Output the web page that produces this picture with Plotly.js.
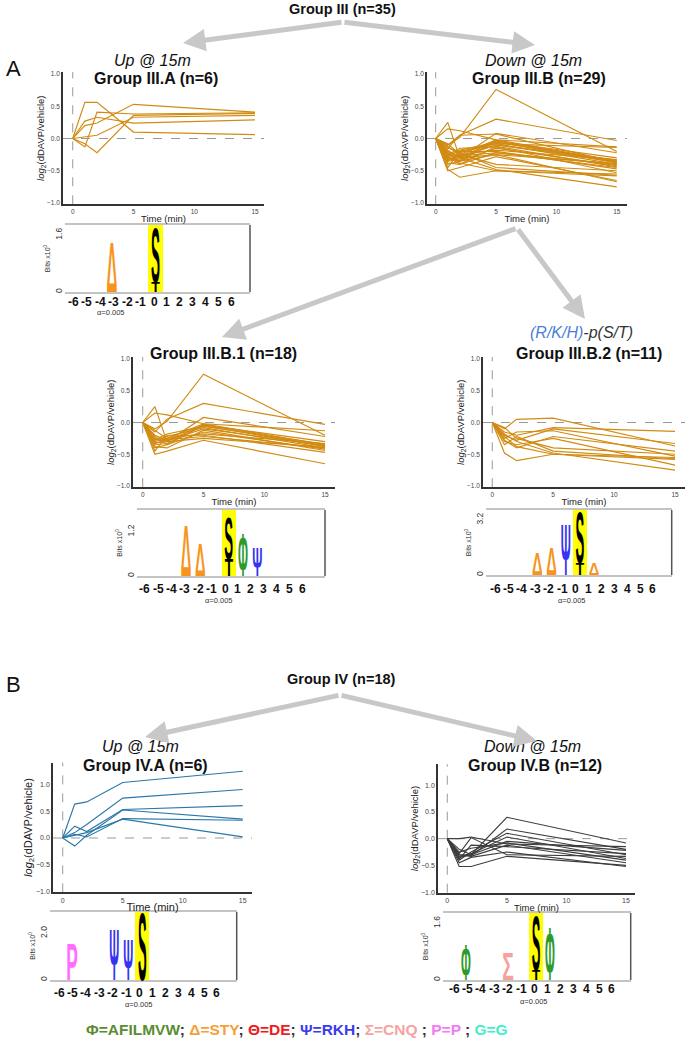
<!DOCTYPE html>
<html><head><meta charset="utf-8">
<script src="https://cdn.plot.ly/plotly-3.0.1.min.js"></script>
<style>html,body{margin:0;padding:0;background:#fff}</style>
</head><body><div id="chart" style="width:685px;height:1038px"></div>
<script>
// ---------------- DATA ----------------
const timeMin = [0, 1, 2, 5, 15];
const timeTicks = [0, 5, 10, 15];
const valueTicks = [-1, -0.5, 0, 0.5, 1];

const groupIIIA = [
  [0, 0.56, 0.56, 0.10, 0.06],
  [0, 0.27, 0.33, 0.24, 0.29],
  [0, 0.20, 0.24, 0.53, 0.41],
  [0, -0.13, 0.41, 0.38, 0.40],
  [0, -0.08, -0.22, 0.36, 0.39],
  [0, 0.02, 0.05, 0.33, 0.36]
];
const groupIIIB1 = [
  [0, -0.10, 0.02, 0.76, -0.20],
  [0, -0.15, 0.05, 0.30, -0.03],
  [0, 0.25, -0.30, 0.08, -0.22],
  [0, 0.15, 0.12, -0.02, -0.13],
  [0, -0.50, -0.45, -0.28, -0.65],
  [0, -0.30, -0.25, -0.02, -0.35],
  [0, -0.25, -0.30, -0.03, -0.37],
  [0, -0.35, -0.33, -0.05, -0.38],
  [0, -0.28, -0.22, -0.08, -0.40],
  [0, -0.40, -0.35, -0.15, -0.42],
  [0, -0.20, -0.28, -0.10, -0.36],
  [0, -0.45, -0.20, -0.20, -0.47],
  [0, -0.32, -0.30, -0.25, -0.39],
  [0, -0.22, -0.35, -0.04, -0.30],
  [0, -0.12, -0.25, -0.18, -0.33],
  [0, -0.38, -0.40, -0.12, -0.44],
  [0, -0.27, -0.18, -0.06, -0.34],
  [0, -0.33, -0.27, -0.22, -0.40]
];
const groupIIIB2 = [
  [0, -0.10, 0.05, 0.07, -0.37],
  [0, -0.15, -0.20, -0.08, -0.14],
  [0, -0.48, -0.60, -0.50, -0.55],
  [0, -0.28, -0.40, -0.22, -0.45],
  [0, -0.20, -0.28, -0.10, -0.33],
  [0, -0.25, -0.15, -0.13, -0.53],
  [0, -0.30, -0.35, -0.25, -0.67],
  [0, -0.08, -0.25, -0.40, -0.50],
  [0, -0.35, -0.22, -0.45, -0.57],
  [0, -0.18, -0.30, -0.48, -0.75],
  [0, -0.22, -0.38, -0.50, -0.58]
];
const groupIIIB = groupIIIB1.concat(groupIIIB2);
const groupIVA = [
  [0, 0.63, 0.67, 1.03, 1.24],
  [0, 0.10, 0.25, 0.74, 0.90],
  [0, 0.22, 0.12, 0.53, 0.60],
  [0, -0.15, 0.05, 0.52, 0.35],
  [0, 0.07, 0.02, 0.36, 0.33],
  [0, 0.05, 0.10, 0.35, 0.02]
];
const groupIVB = [
  [0, -0.20, -0.30, 0.40, -0.08],
  [0, -0.30, -0.32, 0.18, -0.20],
  [0, 0.00, 0.03, -0.10, -0.15],
  [0, -0.52, -0.52, -0.33, -0.50],
  [0, -0.40, -0.25, 0.10, -0.30],
  [0, -0.35, -0.30, -0.05, -0.22],
  [0, -0.25, -0.18, -0.08, -0.40],
  [0, -0.30, -0.33, -0.12, -0.45],
  [0, -0.38, -0.12, -0.15, -0.28],
  [0, -0.45, -0.35, -0.25, -0.52],
  [0, -0.28, 0.02, -0.30, -0.33],
  [0, -0.33, -0.28, 0.03, -0.37]
];

// sequence logos: position, residue symbol, bits (stacked bottom->top per position)
const logoPositionLabels = ['-6','-5','-4','-3','-2','-1','0','1','2','3','4','5','6'];
const centralPosition = 0;
const logoIIIA_pos  = [-3, 0, 0];
const logoIIIA_res  = ['Δ', 'T', 'S'];
const logoIIIA_bits = [1.40, 0.28, 1.52];
const logoIIIB1_pos  = [-3, -2, 0, 0, 1, 2];
const logoIIIB1_res  = ['Δ', 'Δ', 'T', 'S', 'Φ', 'Ψ'];
const logoIIIB1_bits = [1.38, 0.89, 0.47, 1.14, 1.17, 0.76];
const logoIIIB2_pos  = [-3, -2, -1, 0, 0, 1];
const logoIIIB2_res  = ['Δ', 'Δ', 'Ψ', 'T', 'S', 'Δ'];
const logoIIIB2_bits = [1.28, 1.57, 2.91, 0.70, 2.91, 0.70];
const logoIVA_pos  = [-5, -2, -1, 0];
const logoIVA_res  = ['P', 'Ψ', 'Ψ', 'S'];
const logoIVA_bits = [1.54, 2.14, 1.71, 2.88];
const logoIVB_pos  = [-5, -2, 0, 0, 1];
const logoIVB_res  = ['Φ', 'Σ', 'T', 'S', 'Φ'];
const logoIVB_bits = [0.97, 0.76, 0.28, 1.55, 1.47];
const logoMaxBits  = [1.88, 1.79, 3.78, 2.91, 1.89];
const logoTickBits = [1.6, 1.2, 3.2, 2.0, 1.6];

// ---------------- LAYOUT HELPERS ----------------
const W = 685, H = 1038;
const FONT = 'Liberation Sans, Arial, sans-serif';
const px = v => v / W;
const py = v => 1 - v / H;
const GOLD = '#d18b12', BLUE = '#2a78a8', GREY = '#3d3d3d';
const resColor = {'Δ':'#f7941d','S':'#000000','T':'#000000','Ψ':'#3434f2','Φ':'#2e9a2a','Σ':'#f7a0a0','P':'#ff6cff'};
const resWidth = {'Δ':0.70,'S':0.58,'T':0.58,'Ψ':0.66,'Φ':0.66,'Σ':0.76,'P':0.74};

const linePanels = [
  {data: groupIIIA, color: GOLD, x:[63,264],  y:[72.1,204.3], xr:[-0.80,15.74], yr:[-1.02,1.03], tf:6.5, lf:9.5},
  {data: groupIIIB, color: GOLD, x:[427,627], y:[72.1,204.3], xr:[-0.72,15.85], yr:[-1.02,1.03], tf:6.5, lf:9.5},
  {data: groupIIIB1, color: GOLD, x:[133,335], y:[357.1,487.3], xr:[-0.80,15.82], yr:[-1.02,1.03], tf:6.5, lf:9.5},
  {data: groupIIIB2, color: GOLD, x:[483,685], y:[357.1,487.3], xr:[-0.76,15.82], yr:[-1.02,1.03], tf:6.5, lf:9.5},
  {data: groupIVA, color: BLUE, x:[53,252],  y:[762.6,892.4], xr:[-0.81,15.77], yr:[-1.01,1.40], tf:7, lf:11},
  {data: groupIVB, color: GREY, x:[438,635], y:[764.3,892.7], xr:[-0.78,15.76], yr:[-1.01,1.39], tf:7, lf:9.5}
];
const logos = [
  {pos:logoIIIA_pos, res:logoIIIA_res, bits:logoIIIA_bits, x:[65,250], y:[225,292], xr:[-6.24,6.52], row:[154,301.7], alpha:[110,312]},
  {pos:logoIIIB1_pos, res:logoIIIB1_res, bits:logoIIIB1_bits, x:[137,325], y:[510,576], xr:[-6.46,6.77], row:[225,589.3], alpha:[218,600]},
  {pos:logoIIIB2_pos, res:logoIIIB2_res, bits:logoIIIB2_bits, x:[486,671.7], y:[510,575], xr:[-6.62,6.46], row:[575.5,589], alpha:[571.7,600]},
  {pos:logoIVA_pos, res:logoIVA_res, bits:logoIVA_bits, x:[50,236.7], y:[912,980], xr:[-6.59,6.74], row:[139.5,993.3], alpha:[138,1004]},
  {pos:logoIVB_pos, res:logoIVB_res, bits:logoIVB_bits, x:[443,630.7], y:[913,980], xr:[-6.64,6.76], row:[534.5,989], alpha:[533,1001]}
];
const ROW_STEP_NEG = 13.4, ROW_STEP_POS = 12.9;

const layout = {
  width: W, height: H, margin:{l:0,r:0,t:0,b:0}, autosize:false,
  paper_bgcolor:'#ffffff', plot_bgcolor:'rgba(0,0,0,0)', showlegend:false,
  font:{family:FONT, color:'#222'}, annotations:[], shapes:[], bargap:0
};
const traces = [];
const sfx = i => (i === 1 ? '' : String(i));

linePanels.forEach((p, k) => {
  const s = sfx(k + 1);
  layout['xaxis' + s] = {
    domain:[px(p.x[0]), px(p.x[1])], range:p.xr, anchor:'y' + s,
    showline:true, linecolor:'#333', linewidth:1.8, showgrid:false, zeroline:false,
    ticks:'', tickvals:timeTicks, tickfont:{size:p.tf, color:'#444', family:FONT},
    title:{text:'Time (min)', font:{size:p.lf, color:'#222', family:FONT}, standoff:1}, fixedrange:true
  };
  layout['yaxis' + s] = {
    domain:[py(p.y[1]), py(p.y[0])], range:p.yr, anchor:'x' + s,
    showline:true, linecolor:'#333', linewidth:1.8, showgrid:false, zeroline:false,
    ticks:'', tickvals:valueTicks, tickformat:'.1f', tickfont:{size:p.tf, color:'#444', family:FONT},
    title:{text:'<i>log</i><sub>2</sub>(dDAVP/vehicle)', font:{size:p.lf, color:'#222', family:FONT}, standoff:1}, fixedrange:true
  };
  layout.shapes.push({type:'line', layer:'below', xref:'x' + s + ' domain', x0:0, x1:1, yref:'y' + s, y0:0, y1:0, line:{color:'#999', width:1, dash:'dash'}});
  layout.shapes.push({type:'line', layer:'below', xref:'x' + s, x0:0, x1:0, yref:'y' + s + ' domain', y0:0, y1:1, line:{color:'#999', width:1, dash:'dash'}});
  p.data.forEach(row => traces.push({
    type:'scatter', mode:'lines', x:timeMin, y:row, xaxis:'x' + s, yaxis:'y' + s,
    line:{color:p.color, width:1.15}, hoverinfo:'skip'
  }));
});

const letterJobs = [];
logos.forEach((L, k) => {
  const s = String(7 + k);
  const top = logoMaxBits[k];
  layout['xaxis' + s] = {
    domain:[px(L.x[0]), px(L.x[1])], range:L.xr, anchor:'y' + s,
    showline:true, mirror:true, linecolor:'#c4c4c4', linewidth:2, showgrid:false, zeroline:false,
    showticklabels:false, ticks:'', fixedrange:true
  };
  layout['yaxis' + s] = {
    domain:[py(L.y[1]), py(L.y[0])], range:[0, top], anchor:'x' + s,
    showline:false, showgrid:false, zeroline:false, ticks:'',
    tickvals:[0, logoTickBits[k]], ticktext:['0', logoTickBits[k].toFixed(1)], tickangle:-90,
    tickfont:{size:8.5, color:'#333', family:FONT},
    title:{text:'Bits x10<sup>0</sup>', font:{size:7, color:'#333', family:FONT}, standoff:2}, fixedrange:true
  };
  traces.push({type:'bar', x:[centralPosition], y:[top], width:[1], xaxis:'x' + s, yaxis:'y' + s,
    marker:{color:'#ffff00', line:{width:0}}, hoverinfo:'skip'});
  layout.shapes.push({type:'line', xref:'x' + s + ' domain', yref:'y' + s + ' domain', x0:1, x1:1, y0:0, y1:1, line:{color:'#555', width:1.5}});
  const stack = {};
  L.pos.forEach((p, j) => {
    const base = stack[p] || 0;
    const h = L.bits[j];
    stack[p] = base + h;
    const ch = L.res[j];
    const w = resWidth[ch];
    letterJobs.push({idx:layout.annotations.length, ch, fs:40, xa:'xaxis' + s, ya:'yaxis' + s,
      x0:p - w / 2, x1:p + w / 2, y0:base, y1:base + h});
    layout.annotations.push({text:ch, x:p, y:base, xref:'x' + s, yref:'y' + s, xanchor:'center', yanchor:'bottom',
      showarrow:false, font:{family:'Liberation Sans', size:40, color:resColor[ch], weight:'bold'}});
  });
  logoPositionLabels.forEach((t, j) => {
    const off = j - 6;
    const dx = off < 0 ? off * ROW_STEP_NEG : off * ROW_STEP_POS;
    layout.annotations.push({
      text:'<b>' + t + '</b>', x:px(L.row[0] + dx), y:py(L.row[1]),
      xref:'paper', yref:'paper', xanchor:'center', yanchor:'middle', showarrow:false,
      font:{size:12, color:'#111', family:FONT}});
  });
  layout.annotations.push({text:'α=0.005', x:px(L.alpha[0]), y:py(L.alpha[1]),
    xref:'paper', yref:'paper', xanchor:'center', yanchor:'middle', showarrow:false, font:{size:7.5, color:'#333', family:FONT}});
});

// titles and labels
function label(text, x, y, size, opts) {
  layout.annotations.push(Object.assign({text, x:px(x), y:py(y), xref:'paper', yref:'paper', showarrow:false,
    xanchor:'center', yanchor:'middle', font:{size, color:'#111', family:FONT}}, opts || {}));
}
label('<b>Group III (n=35)</b>', 342, 9, 14.5);
label('A', 13, 68, 22);
label('<i>Up @ 15m</i>', 152, 61, 16);
label('<b>Group III.A (n=6)</b>', 155.5, 78, 16);
label('<i>Down @ 15m</i>', 533, 61, 16);
label('<b>Group III.B (n=29)</b>', 538.5, 78, 16);
label('<b>Group III.B.1 (n=18)</b>', 223, 353.3, 16);
label('<i><span style="color:#4a7fd6">(R/K/H)</span>-p(S/T)</i>', 581, 333, 16, {font:{size:16, color:'#333', family:FONT}});
label('<b>Group III.B.2 (n=11)</b>', 589, 353.3, 16);
label('B', 13, 684, 22);
label('<b>Group IV (n=18)</b>', 341, 679, 14.5);
label('<i>Up @ 15m</i>', 140, 746.7, 16);
label('<b>Group IV.A (n=6)</b>', 145.5, 765, 16);
label('<i>Down @ 15m</i>', 532, 746.7, 16);
label('<b>Group IV.B (n=12)</b>', 535, 765, 16);
label('<b><span style="color:#5b8c32">Φ=AFILMVW</span>; <span style="color:#f7a035">Δ=STY</span>; <span style="color:#ee1c1c">Θ=DE</span>; <span style="color:#3a3af0">Ψ=RKH</span>; <span style="color:#f5a3a3">Σ=CNQ</span> ; <span style="color:#f57af5">P=P</span> ; <span style="color:#44eec8">G=G</span></b>', 297, 1029, 15.5, {font:{size:15.5, color:'#333', family:FONT}});

// grey arrows
const arrows = [
  [343,22,183,43],[343,22,535,45],
  [517,228,222,337],[517,228,585,319],
  [340,695,145,737],[340,695,537,741]
];
arrows.forEach(a => layout.annotations.push({
  text:'', x:px(a[2]), y:py(a[3]), xref:'paper', yref:'paper', ax:a[0] - a[2], ay:a[1] - a[3],
  axref:'pixel', ayref:'pixel', showarrow:true, arrowhead:2, arrowsize:0.9, arrowwidth:5, arrowcolor:'#c8c8c8'
}));

function stretchLetters(gd) {
  const cv = document.createElement('canvas').getContext('2d');
  letterJobs.forEach(J => {
    const g = gd.querySelector('.annotation[data-index="' + J.idx + '"]');
    if (!g) return;
    const t = g.querySelector('text');
    if (!t) return;
    const bb = t.getBBox();
    cv.font = 'bold ' + J.fs + 'px "Liberation Sans"';
    const m = cv.measureText(J.ch);
    const fa = m.fontBoundingBoxAscent || 0.905 * J.fs;
    const baseline = bb.y + fa;
    const inkL = bb.x - m.actualBoundingBoxLeft, inkR = bb.x + m.actualBoundingBoxRight;
    const inkT = baseline - m.actualBoundingBoxAscent, inkB = baseline + m.actualBoundingBoxDescent;
    const xa = gd._fullLayout[J.xa], ya = gd._fullLayout[J.ya];
    const tl = xa._offset + xa.l2p(J.x0), tr = xa._offset + xa.l2p(J.x1);
    const tt = ya._offset + ya.l2p(J.y1), tb = ya._offset + ya.l2p(J.y0);
    const pm = t.parentNode.getCTM();
    const lL = (tl - pm.e) / pm.a, lR = (tr - pm.e) / pm.a, lT = (tt - pm.f) / pm.d, lB = (tb - pm.f) / pm.d;
    const sx = (lR - lL) / (inkR - inkL), sy = (lB - lT) / (inkB - inkT);
    t.setAttribute('transform', 'matrix(' + sx + ',0,0,' + sy + ',' + (lL - sx * inkL) + ',' + (lT - sy * inkT) + ')');
  });
}

Plotly.newPlot('chart', traces, layout, {staticPlot:true, displayModeBar:false, responsive:false})
  .then(gd => stretchLetters(gd));
</script>
</body></html>
